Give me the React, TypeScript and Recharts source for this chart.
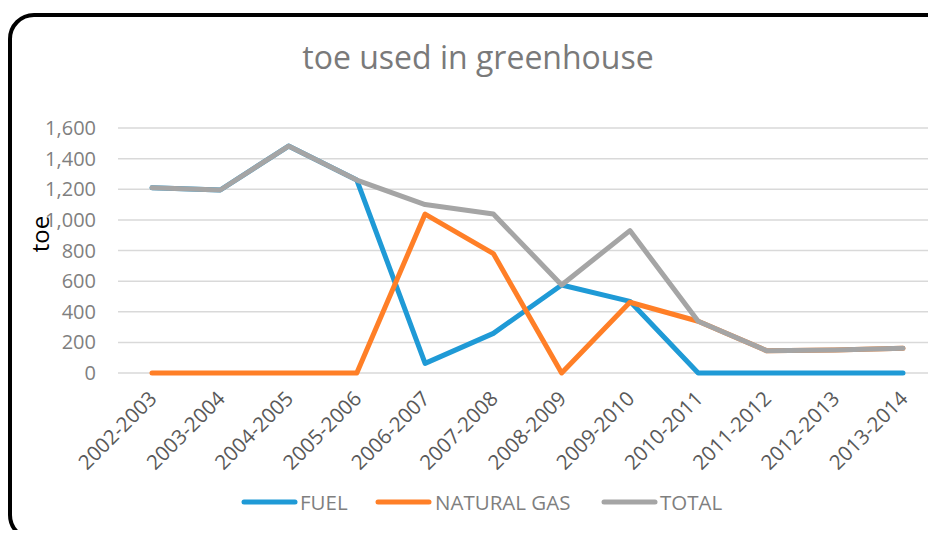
import React from 'react';
import { LineChart, Line, XAxis, YAxis, CartesianGrid } from 'recharts';

const categories = ['2002-2003', '2003-2004', '2004-2005', '2005-2006', '2006-2007', '2007-2008', '2008-2009', '2009-2010', '2010-2011', '2011-2012', '2012-2013', '2013-2014'];
const fuel = [1210, 1195, 1482, 1260, 63, 259, 575, 468, 0, 0, 0, 0];
const naturalGas = [0, 0, 0, 0, 1038, 780, 0, 462, 338, 146, 150, 161];
const total = [1210, 1195, 1482, 1260, 1100, 1038, 575, 930, 338, 146, 150, 161];
const yTicks = [0, 200, 400, 600, 800, 1000, 1200, 1400, 1600];

const seriesNames = ['FUEL', 'NATURAL GAS', 'TOTAL'];
const seriesColors = ['#1f9ad6', '#ff7f27', '#a5a5a5'];

const data = categories.map((c, i) => ({ cat: c, fuel: fuel[i], gas: naturalGas[i], total: total[i] }));

const FONT = "'Open Sans', sans-serif";

const XTick = (props: any) => {
  const { x, y, payload } = props;
  return (
    <g transform={`translate(${x + 6},${y + 19})`}>
      <text x={0} y={0} textAnchor="end" transform="rotate(-45)" fill="#595959" fontSize={20.5} fontFamily={FONT}>
        {payload.value}
      </text>
    </g>
  );
};

export default function App() {
  const legendX = [242, 376, 602];
  const legendTextX = [300, 435, 660];
  return (
    <div style={{ position: 'relative', width: 936, height: 538, margin: -8, overflow: 'hidden', background: '#fff' }}>
      <div style={{ position: 'absolute', left: 0, top: 0 }}>
        <LineChart width={940} height={538} data={data} margin={{ top: 128, right: 3, left: 0, bottom: 0 }}>
          <CartesianGrid vertical={false} stroke="#d9d9d9" strokeWidth={1.5} />
          <XAxis
            dataKey="cat"
            height={165}
            axisLine={false}
            tickLine={false}
            interval={0}
            padding={{ left: 34, right: 34 }}
            tick={<XTick />}
          />
          <YAxis
            width={118}
            domain={[0, 1600]}
            ticks={yTicks}
            axisLine={false}
            tickLine={false}
            tickMargin={16}
            tick={{ fill: '#7f7f7f', fontSize: 20, fontFamily: FONT }}
            tickFormatter={(v: number) => v.toLocaleString('en-US')}
          />
          <Line dataKey="fuel" stroke={seriesColors[0]} strokeWidth={5} dot={false} strokeLinecap="round" strokeLinejoin="round" isAnimationActive={false} />
          <Line dataKey="gas" stroke={seriesColors[1]} strokeWidth={5} dot={false} strokeLinecap="round" strokeLinejoin="round" isAnimationActive={false} />
          <Line dataKey="total" stroke={seriesColors[2]} strokeWidth={5} dot={false} strokeLinecap="round" strokeLinejoin="round" isAnimationActive={false} />
        </LineChart>
      </div>
      <svg width={936} height={538} style={{ position: 'absolute', left: 0, top: 0, pointerEvents: 'none' }}>
        <text x={478} y={69} textAnchor="middle" fill="#7a7a7a" fontSize={32} fontFamily={FONT}>
          toe used in greenhouse
        </text>
        <text transform="translate(49,234) rotate(-90)" textAnchor="middle" fill="#000" fontSize={24} fontFamily={FONT}>
          toe
        </text>
        {seriesNames.map((n, i) => (
          <g key={n}>
            <line x1={legendX[i] + 2} x2={legendX[i] + 53} y1={502} y2={502} stroke={seriesColors[i]} strokeWidth={5} strokeLinecap="round" />
            <text x={legendTextX[i]} y={509.5} fill="#7f7f7f" fontSize={20.5} fontFamily={FONT}>
              {n}
            </text>
          </g>
        ))}
      </svg>
      <div
        style={{
          position: 'absolute',
          left: 8,
          top: 13,
          width: 950,
          height: 528,
          boxSizing: 'border-box',
          border: '4.5px solid #000',
          borderRadius: 26,
          pointerEvents: 'none',
        }}
      />
    </div>
  );
}
